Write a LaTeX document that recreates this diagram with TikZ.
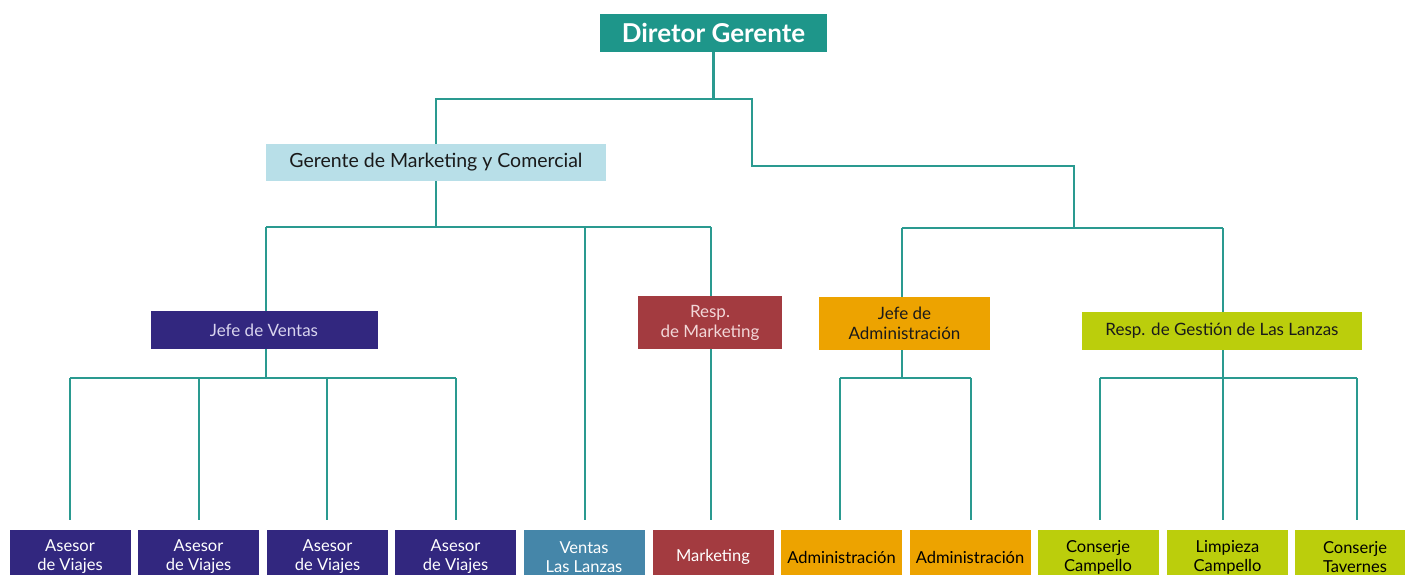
\documentclass[tikz,border=0pt]{standalone}
\usepackage{fontspec}
\setmainfont{Lato}
\definecolor{teal1}{HTML}{1E968A}
\definecolor{lineteal}{HTML}{2A9A90}
\definecolor{lblue}{HTML}{B8DFE8}
\definecolor{purp}{HTML}{32277F}
\definecolor{redm}{HTML}{A33B40}
\definecolor{orng}{HTML}{EDA300}
\definecolor{lime}{HTML}{BBCE0C}
\definecolor{steel}{HTML}{4586A9}
\definecolor{lav}{HTML}{D8D4EE}
\definecolor{pinkt}{HTML}{F2D7D8}
\definecolor{darkt}{HTML}{1A1A1A}
\begin{document}
\begin{tikzpicture}[x=1pt,y=-1pt,
  box/.style={rectangle, inner sep=0pt, align=center},
  conn/.style={draw=lineteal, line width=2.8pt},
  bottom/.style={box, minimum width=121pt, minimum height=54pt, font=\fontsize{16.5}{19}\selectfont},
  mid/.style={box, font=\fontsize{17}{20}\selectfont}
]
\clip (0,0) rectangle (1405,575);
\useasboundingbox (0,0) rectangle (1405,575);

% top level
\node[box, fill=teal1, text=white, minimum width=227pt, minimum height=38pt, font=\fontsize{26}{29}\selectfont\bfseries] (dg) at (713.5,33) {Diretor Gerente};
\node[box, fill=lblue, text=darkt, minimum width=340pt, minimum height=37pt, font=\fontsize{19.5}{22}\selectfont] (gm) at (436,162.5) {Gerente de Marketing y Comercial};

% middle level
\node[mid, fill=purp, text=lav, minimum width=227pt, minimum height=38pt] (jv) at (264,330) {Jefe de Ventas};
\node[mid, fill=redm, text=pinkt, minimum width=144pt, minimum height=53pt] (rm) at (710,322.5) {Resp.\\de Marketing};
\node[mid, fill=orng, text=darkt, minimum width=171pt, minimum height=53pt] (ja) at (904.5,323.5) {Jefe de\\Administración};
\node[mid, fill=lime, text=darkt, minimum width=280pt, minimum height=38pt] (rg) at (1222,331) {Resp. de Gestión de Las Lanzas};

% bottom level
\node[bottom, fill=purp, text=white] (a1) at (70,557) {Asesor\\de Viajes};
\node[bottom, fill=purp, text=white] (a2) at (198.5,557) {Asesor\\de Viajes};
\node[bottom, fill=purp, text=white] (a3) at (327.5,557) {Asesor\\de Viajes};
\node[bottom, fill=purp, text=white] (a4) at (455.5,557) {Asesor\\de Viajes};
\node[bottom, fill=steel, text=white] (vl) at (584,557) {Ventas\\Las Lanzas};
\node[bottom, fill=redm, text=white] (mk) at (713,557) {Marketing};
\node[bottom, fill=orng, text=black] (ad1) at (841.5,557) {Administración};
\node[bottom, fill=orng, text=black] (ad2) at (970,557) {Administración};
\node[bottom, fill=lime, text=black] (c1) at (1098,557) {Conserje\\Campello};
\node[bottom, fill=lime, text=black] (c2) at (1227.5,557) {Limpieza\\Campello};
\node[bottom, fill=lime, text=black] (c3) at (1355,557) {Conserje\\Tavernes};

% junction coordinates
\coordinate (j1) at (436,99);
\coordinate (j2) at (752,99);
\coordinate (j3) at (1074,166);
\coordinate (j4) at (1074,228);
\coordinate (j5) at (902,228);
\coordinate (j6) at (1223,228);
\coordinate (k1) at (436,227);
\coordinate (k2) at (266,227);
\coordinate (k3) at (711,227);
\coordinate (k4) at (585,227);
\coordinate (l0) at (266,378);
\coordinate (l1) at (70,378);
\coordinate (l2) at (199,378);
\coordinate (l3) at (327,378);
\coordinate (l4) at (456,378);
\coordinate (m0) at (902,378);
\coordinate (m1) at (840,378);
\coordinate (m2) at (971,378);
\coordinate (n0) at (1223,378);
\coordinate (n1) at (1100,378);
\coordinate (n3) at (1357,378);

% connectors
\draw[conn] (dg.south) |- (j1) -- (gm.north);
\draw[conn] (j1) -- (j2) |- (j3) -- (j4);
\draw[conn] (j5) -- (j6);
\draw[conn] (j5) -- (j5 |- ja.north);
\draw[conn] (j6) -- (j6 |- rg.north);

\draw[conn] (gm.south) -- (k1);
\draw[conn] (k2) -- (k3);
\draw[conn] (k2) -- (k2 |- jv.north);
\draw[conn] (k3) -- (k3 |- rm.north);
\draw[conn, shorten >=10pt] (k4) -- (k4 |- vl.north);

\draw[conn] (jv.south -| l0) -- (l0);
\draw[conn] (l1) -- (l4);
\draw[conn, shorten >=10pt] (l1) -- (l1 |- a1.north);
\draw[conn, shorten >=10pt] (l2) -- (l2 |- a2.north);
\draw[conn, shorten >=10pt] (l3) -- (l3 |- a3.north);
\draw[conn, shorten >=10pt] (l4) -- (l4 |- a4.north);

\draw[conn, shorten >=10pt] (rm.south -| k3) -- (k3 |- mk.north);

\draw[conn] (ja.south -| m0) -- (m0);
\draw[conn] (m1) -- (m2);
\draw[conn, shorten >=10pt] (m1) -- (m1 |- ad1.north);
\draw[conn, shorten >=10pt] (m2) -- (m2 |- ad2.north);

\draw[conn] (rg.south -| n0) -- (n0);
\draw[conn] (n1) -- (n3);
\draw[conn, shorten >=10pt] (n1) -- (n1 |- c1.north);
\draw[conn, shorten >=10pt] (n0) -- (n0 |- c2.north);
\draw[conn, shorten >=10pt] (n3) -- (n3 |- c3.north);
\end{tikzpicture}
\end{document}
